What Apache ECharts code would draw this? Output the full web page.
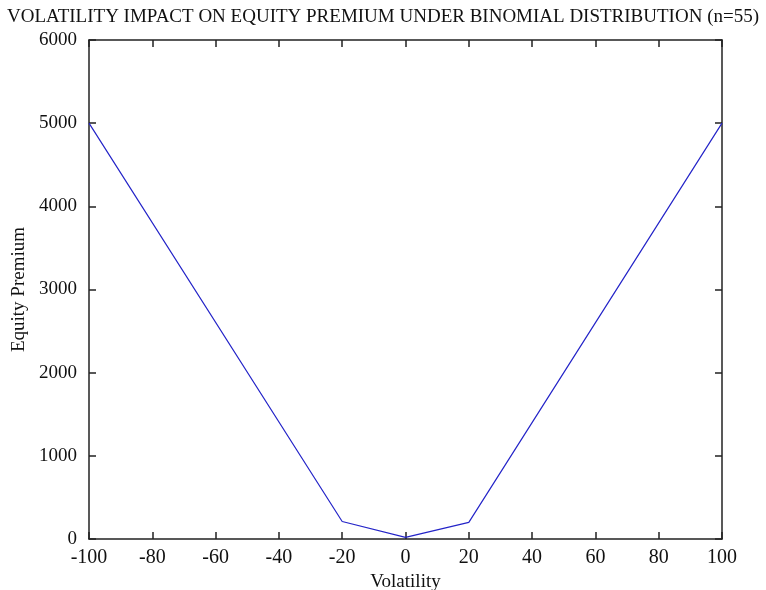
<!DOCTYPE html>
<html>
<head>
<meta charset="utf-8">
<script src="https://cdn.jsdelivr.net/npm/echarts@6/dist/echarts.min.js"></script>
<style>html,body{margin:0;padding:0;background:#fff;}#c{width:766px;height:590px;}</style>
</head>
<body>
<div id="c"></div>
<script>
const volatility = [-100, -20, 0, 20, 100];
const premium = [5000, 210, 20, 200, 5000];
const titleText = 'VOLATILITY IMPACT ON EQUITY PREMIUM UNDER BINOMIAL DISTRIBUTION (n=55)';

const chart = echarts.init(document.getElementById('c'));
const font = 'Liberation Serif, Times New Roman, serif';
const lineStyle = {color: '#222', width: 1.5};
const plain = v => String(v);
chart.setOption({
  backgroundColor: '#fff',
  animation: false,
  title: {
    text: titleText, left: 'center', top: 3,
    textStyle: {fontFamily: font, fontSize: 19, fontWeight: 'normal', color: '#111'}
  },
  grid: {left: 89, right: 44, top: 40, bottom: 51, containLabel: false, outerBoundsMode: 'none'},
  xAxis: [{
    type: 'value', min: -100, max: 100, interval: 20, position: 'bottom',
    name: 'Volatility', nameLocation: 'middle', nameGap: 30,
    nameTextStyle: {fontFamily: font, fontSize: 19, color: '#111'},
    axisLine: {show: true, onZero: false, lineStyle},
    axisTick: {show: true, inside: true, length: 7, lineStyle},
    axisLabel: {fontFamily: font, fontSize: 20, color: '#111', margin: 9, formatter: plain},
    splitLine: {show: false}
  }, {
    type: 'value', min: -100, max: 100, interval: 20, position: 'top',
    axisLine: {show: true, onZero: false, lineStyle},
    axisTick: {show: true, inside: true, length: 7, lineStyle},
    axisLabel: {show: false}, splitLine: {show: false}
  }],
  yAxis: [{
    type: 'value', min: 0, max: 6000, interval: 1000, position: 'left',
    name: 'Equity Premium', nameLocation: 'middle', nameGap: 58, nameRotate: 90,
    nameTextStyle: {fontFamily: font, fontSize: 19, color: '#111'},
    axisLine: {show: true, onZero: false, lineStyle},
    axisTick: {show: true, inside: true, length: 7, lineStyle},
    axisLabel: {fontFamily: font, fontSize: 19, color: '#111', margin: 12, formatter: plain},
    splitLine: {show: false}
  }, {
    type: 'value', min: 0, max: 6000, interval: 1000, position: 'right',
    axisLine: {show: true, onZero: false, lineStyle},
    axisTick: {show: true, inside: true, length: 7, lineStyle},
    axisLabel: {show: false}, splitLine: {show: false}
  }],
  series: [{
    type: 'line',
    data: volatility.map((v, i) => [v, premium[i]]),
    showSymbol: false,
    lineStyle: {color: '#2424c8', width: 1.2},
    itemStyle: {color: '#2424c8'}
  }]
});
</script>
</body>
</html>
